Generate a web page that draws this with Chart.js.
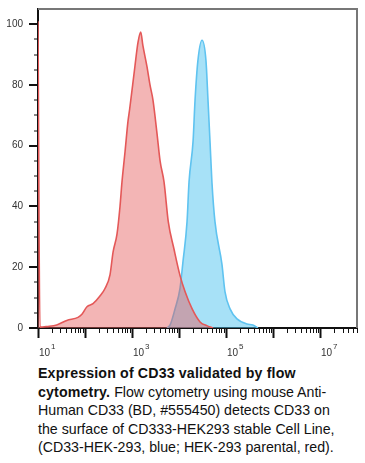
<!DOCTYPE html>
<html>
<head>
<meta charset="utf-8">
<script src="https://cdn.jsdelivr.net/npm/chart.js@4.4.1/dist/chart.umd.min.js"></script>
<style>
  html, body { margin: 0; padding: 0; background: #fff; }
  body { width: 365px; height: 463px; position: relative; overflow: hidden; font-family: "Liberation Sans", Arial, sans-serif; }
  #wrap { position: absolute; left: 0; top: 0; width: 365px; height: 362px; }
  #caption { position: absolute; left: 38px; top: 364px; width: 327px; font-size: 14.2px; line-height: 18.5px; color: #111; white-space: nowrap; }
  #caption b { letter-spacing: 0.15px; }
</style>
</head>
<body>
<div id="wrap"><canvas id="flow" width="365" height="362"></canvas></div>
<div id="caption"><b>Expression of CD33 validated by flow<br>cytometry.</b> Flow cytometry using mouse Anti-<br>Human CD33 (BD, #555450) detects CD33 on<br>the surface of CD333-HEK293 stable Cell Line,<br>(CD33-HEK-293, blue; HEK-293 parental, red).</div>
<script>
// HEK-293 parental (red)
const parentalX = [10, 11, 15.5, 25, 41, 71, 86, 110, 148, 208, 266, 340, 395, 480, 555, 611, 710, 820, 890, 1150, 1340, 1530, 1700, 2080, 2410, 2790, 3400, 3950, 4800, 5900, 7800, 10400, 13400, 19000, 28000, 40000, 53000];
const parentalY = [101, 0.3, 0.5, 1, 2.5, 3.5, 4.5, 7, 8, 10.5, 13, 17.5, 25, 31, 40, 48, 58, 68, 72, 86, 94, 97.4, 93, 86, 80, 75, 64, 55, 48, 35, 26, 17.5, 12, 6.3, 2, 0.7, 0];

// CD33-HEK-293 (blue)
const cd33X = [5560, 6460, 8220, 10470, 12160, 14800, 16300, 19900, 21900, 25200, 30800, 37400, 41300, 45500, 50100, 58100, 81700, 94800, 121600, 171000, 280000, 373000, 478000];
const cd33Y = [0, 1, 6.3, 13, 22, 35, 48, 61.6, 75, 88, 94.7, 88, 75, 61.6, 48, 35, 21, 12, 6.3, 3, 1.3, 1, 0];

const yTicks = [0, 5, 10, 15, 20, 25, 30, 35, 40, 45, 50, 55, 60, 65, 70, 75, 80, 85, 90, 95, 100];
const yLabels = [0, 20, 40, 60, 80, 100];
const xDecades = [1, 2, 3, 4, 5, 6, 7];
const xLabelled = [1, 3, 5, 7];
const xMin = 10, xMax = 6.1e7;

function toPoints(xs, ys) {
    return xs.map((x, i) => ({ x: x, y: ys[i] }));
}

// all log ticks 1..9 x 10^n inside the range
const xTicks = [];
xDecades.forEach(d => {
    for (let m = 1; m <= 9; m++) {
        const v = m * Math.pow(10, d);
        if (v >= xMin && v <= xMax) xTicks.push(v);
    }
});

function decadeOf(v) {
    const e = Math.log10(v);
    return Math.abs(e - Math.round(e)) < 1e-9 ? Math.round(e) : null;
}

const tickMarks = {
    id: "tickMarks",
    afterDraw(chart) {
        const { ctx, chartArea: a, scales: { x, y } } = chart;
        ctx.save();
        ctx.strokeStyle = "#111";
        y.ticks.forEach(t => {
            const py = Math.round(y.getPixelForValue(t.value));
            const major = yLabels.includes(t.value);
            ctx.lineWidth = major ? 2 : 1;
            ctx.beginPath();
            ctx.moveTo(a.left - (major ? 9 : 4), py);
            ctx.lineTo(a.left, py);
            ctx.stroke();
        });
        x.ticks.forEach(t => {
            const px = Math.round(x.getPixelForValue(t.value)) + 0.5;
            const major = decadeOf(t.value) !== null;
            ctx.lineWidth = major ? 2 : 1;
            ctx.beginPath();
            ctx.moveTo(px, a.bottom);
            ctx.lineTo(px, a.bottom + (major ? 10 : 5));
            ctx.stroke();
        });
        // exponents of the 10^n labels
        ctx.fillStyle = "#333";
        ctx.font = "8px 'Liberation Sans'";
        ctx.textBaseline = "alphabetic";
        ctx.textAlign = "left";
        xLabelled.forEach(e => {
            const px = x.getPixelForValue(Math.pow(10, e));
            ctx.fillText(String(e), px + 13, a.bottom + 21);
        });
        // grey frame on top and right
        ctx.strokeStyle = "#777";
        ctx.lineWidth = 2;
        ctx.beginPath();
        ctx.moveTo(a.left, a.top);
        ctx.lineTo(a.right, a.top);
        ctx.lineTo(a.right, a.bottom);
        ctx.stroke();
        ctx.restore();
    }
};

const ctx = document.getElementById("flow").getContext("2d");
new Chart(ctx, {
    type: "line",
    data: {
        datasets: [
            {
                label: "HEK-293 parental",
                data: toPoints(parentalX, parentalY),
                borderColor: "rgb(228,88,88)",
                backgroundColor: "rgba(228,90,90,0.45)",
                fill: "origin",
                borderWidth: 1.6,
                pointRadius: 0,
                tension: 0.25,
                cubicInterpolationMode: "monotone"
            },
            {
                label: "CD33-HEK-293",
                data: toPoints(cd33X, cd33Y),
                borderColor: "rgb(95,195,240)",
                backgroundColor: "rgba(80,195,240,0.5)",
                fill: "origin",
                borderWidth: 1.6,
                pointRadius: 0,
                tension: 0.25,
                cubicInterpolationMode: "monotone"
            }
        ]
    },
    options: {
        responsive: false,
        animation: false,
        layout: { padding: { top: 9, right: 8, left: 0, bottom: 0 } },
        plugins: { legend: { display: false }, tooltip: { enabled: false } },
        scales: {
            x: {
                type: "logarithmic",
                min: xMin,
                max: xMax,
                afterBuildTicks: s => { s.ticks = xTicks.map(v => ({ value: v })); },
                afterFit: s => { s.height = 34; s.paddingLeft = 0; s.paddingRight = 0; },
                grid: { display: false, drawTicks: false },
                border: { display: true, color: "#111", width: 2 },
                ticks: {
                    autoSkip: false,
                    maxRotation: 0,
                    padding: 19,
                    labelOffset: 6.5,
                    color: "#333",
                    font: { family: "Liberation Sans", size: 10 },
                    callback: v => xLabelled.includes(decadeOf(v)) ? "10" : ""
                }
            },
            y: {
                min: 0,
                max: 105,
                afterBuildTicks: s => { s.ticks = yTicks.map(v => ({ value: v })); },
                afterFit: s => { s.width = 38; s.paddingTop = 0; s.paddingBottom = 0; },
                grid: { display: false, drawTicks: false },
                border: { display: true, color: "#111", width: 2 },
                ticks: {
                    autoSkip: false,
                    padding: 15,
                    color: "#333",
                    font: { family: "Liberation Sans", size: 10 },
                    callback: v => yLabels.includes(v) ? String(v) : ""
                }
            }
        }
    },
    plugins: [tickMarks]
});
</script>
</body>
</html>
